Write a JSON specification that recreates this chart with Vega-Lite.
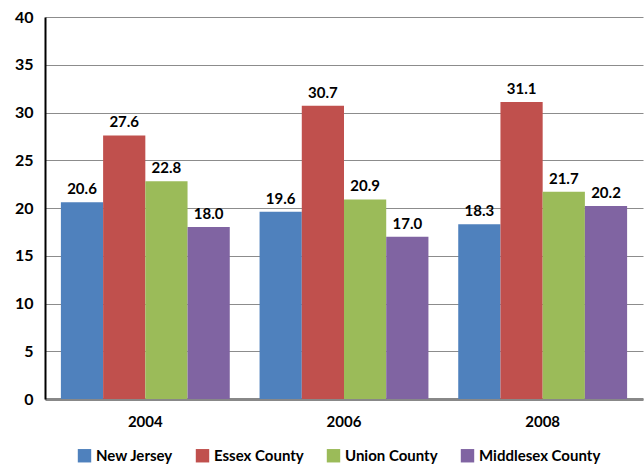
{
  "$schema": "https://vega.github.io/schema/vega-lite/v6.json",
  "width": 598,
  "height": 382,
  "autosize": {"type": "none"},
  "padding": {"left": 45, "top": 17, "right": 1, "bottom": 65},
  "background": "white",
  "config": {
    "font": "Lato",
    "view": {"stroke": null}
  },
  "data": {
    "values": [
      {"year": "2004", "area": "New Jersey", "value": 20.6},
      {"year": "2004", "area": "Essex County", "value": 27.6},
      {"year": "2004", "area": "Union County", "value": 22.8},
      {"year": "2004", "area": "Middlesex County", "value": 18.0},
      {"year": "2006", "area": "New Jersey", "value": 19.6},
      {"year": "2006", "area": "Essex County", "value": 30.7},
      {"year": "2006", "area": "Union County", "value": 20.9},
      {"year": "2006", "area": "Middlesex County", "value": 17.0},
      {"year": "2008", "area": "New Jersey", "value": 18.3},
      {"year": "2008", "area": "Essex County", "value": 31.1},
      {"year": "2008", "area": "Union County", "value": 21.7},
      {"year": "2008", "area": "Middlesex County", "value": 20.2}
    ]
  },
  "encoding": {
    "x": {
      "field": "year", "type": "nominal", "title": null,
      "scale": {"paddingInner": 0.15, "paddingOuter": 0.08},
      "axis": {"labelAngle": 0, "labelFont": "Lato", "labelFontWeight": "bold", "labelFontSize": 15, "labelColor": "black", "ticks": false, "labelPadding": 15, "domainColor": "#888888", "domainWidth": 3}
    },
    "xOffset": {"field": "area", "type": "nominal", "sort": ["New Jersey", "Essex County", "Union County", "Middlesex County"]},
    "y": {
      "field": "value", "type": "quantitative", "title": null,
      "scale": {"domain": [0, 40]},
      "axis": {"values": [0, 5, 10, 15, 20, 25, 30, 35, 40], "labelFont": "Lato", "labelFontWeight": "bold", "labelFontSize": 16, "labelColor": "black", "ticks": false, "labelPadding": 12, "domainColor": "black", "domainWidth": 2, "gridColor": "#8c8c8c", "gridWidth": 1}
    }
  },
  "layer": [
    {
      "mark": {"type": "bar"},
      "encoding": {
        "color": {
          "field": "area", "type": "nominal",
          "sort": ["New Jersey", "Essex County", "Union County", "Middlesex County"],
          "scale": {"domain": ["New Jersey", "Essex County", "Union County", "Middlesex County"], "range": ["#4F81BD", "#C0504D", "#9BBB59", "#8064A2"]},
          "legend": {"orient": "none", "legendX": 32, "legendY": 431, "direction": "horizontal", "title": null, "symbolType": "square", "symbolSize": 180, "symbolStrokeWidth": 0, "labelFont": "Lato", "labelFontWeight": "bold", "labelFontSize": 15, "labelColor": "black", "columnPadding": 22, "labelOffset": 4}
        }
      }
    },
    {
      "mark": {"type": "text", "dy": -13, "font": "Lato", "fontWeight": "bold", "fontSize": 15, "color": "black"},
      "encoding": {
        "text": {"field": "value", "type": "quantitative", "format": ".1f"}
      }
    }
  ]
}
